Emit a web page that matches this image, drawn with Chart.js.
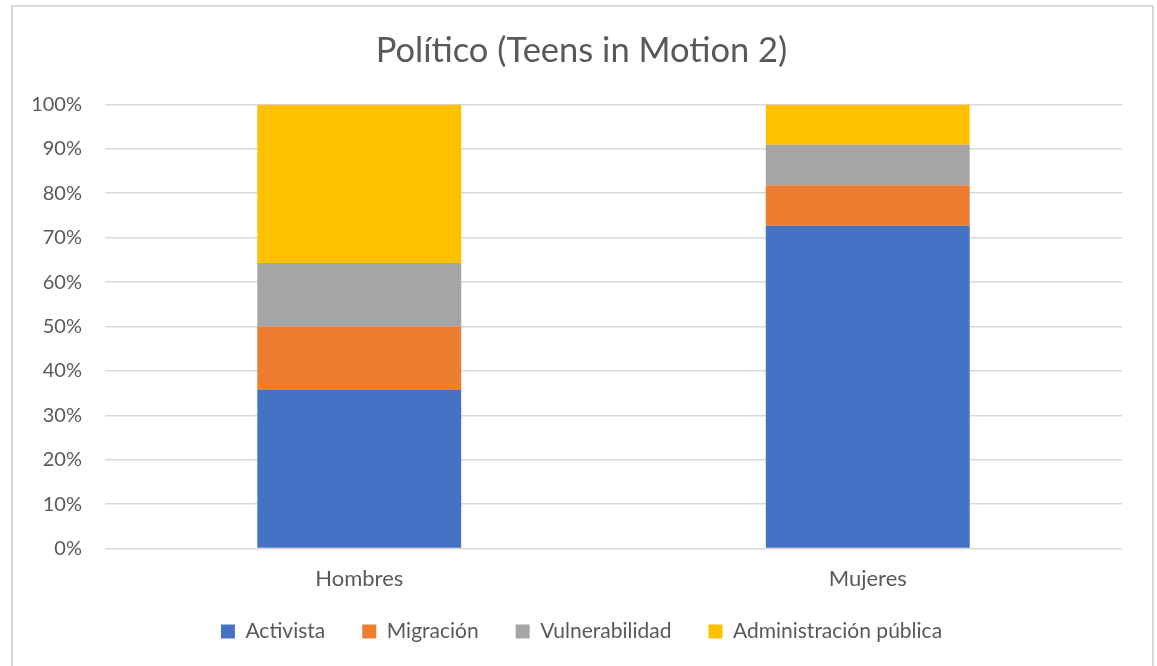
<!DOCTYPE html>
<html>
<head>
<meta charset="utf-8">
<script src="https://cdn.jsdelivr.net/npm/chart.js@4/dist/chart.umd.min.js"></script>
<style>
  html, body { margin: 0; padding: 0; background: #fff; }
  #frame { position: absolute; left: 11px; top: 5px; width: 1139px; height: 700px; border: 2px solid #d9d9d9; }
  #wrap { position: absolute; left: 0; top: 0; width: 1157px; height: 666px; }
</style>
</head>
<body>
<div id="frame"></div>
<div id="wrap"><canvas id="myChart" width="1157" height="666"></canvas></div>
<script>
const grupos = ['Hombres', 'Mujeres'];
const activista = [35.7, 72.7];
const migracion = [14.3, 9.1];
const vulnerabilidad = [14.3, 9.1];
const administracion = [35.7, 9.1];
const yTicks = [0, 10, 20, 30, 40, 50, 60, 70, 80, 90, 100];

const gris = '#595959';
Chart.defaults.font.family = 'Lato, "Open Sans", sans-serif';
Chart.defaults.color = gris;

// title and legend sit a little right of the canvas centre,
// and the legend keeps wide item gaps but takes less room above them
const recorte = 17;
const desplazX = 5.5;
const ajusteBloques = {
    id: 'ajusteBloques',
    beforeInit(chart) {
        const leg = chart.legend;
        const fitOrig = leg.fit;
        const drawLeg = leg._draw;
        leg.fit = function () {
            fitOrig.call(this);
            this.height -= recorte;
        };
        leg._draw = function () {
            this.ctx.save();
            this.ctx.translate(desplazX, -recorte);
            drawLeg.call(this);
            this.ctx.restore();
        };
        const tit = chart.titleBlock;
        const drawTit = tit.draw;
        tit.draw = function () {
            this.ctx.save();
            this.ctx.translate(desplazX, 0);
            drawTit.call(this);
            this.ctx.restore();
        };
    }
};

const ctx = document.getElementById('myChart').getContext('2d');
const myChart = new Chart(ctx, {
    type: 'bar',
    data: {
        labels: grupos,
        datasets: [
            { label: 'Activista', data: activista, backgroundColor: '#4472C4' },
            { label: 'Migración', data: migracion, backgroundColor: '#ED7D31' },
            { label: 'Vulnerabilidad', data: vulnerabilidad, backgroundColor: '#A5A5A5' },
            { label: 'Administración pública', data: administracion, backgroundColor: '#FFC000' }
        ]
    },
    options: {
        responsive: false,
        animation: false,
        barPercentage: 0.401,
        categoryPercentage: 1,
        layout: { padding: { left: 30, right: 35, top: 0, bottom: 14 } },
        plugins: {
            title: {
                display: true,
                text: 'Político (Teens in Motion 2)',
                color: gris,
                font: { size: 34.5, weight: 'normal' },
                padding: { top: 30, bottom: 33 }
            },
            legend: {
                position: 'bottom',
                labels: {
                    boxWidth: 14,
                    boxHeight: 14,
                    padding: 37,
                    font: { size: 21 },
                    color: gris
                }
            },
            tooltip: { enabled: false }
        },
        scales: {
            x: {
                stacked: true,
                grid: { display: false },
                border: { display: false },
                ticks: { padding: 9, font: { size: 22 }, color: gris }
            },
            y: {
                stacked: true,
                min: 0,
                max: 100,
                afterBuildTicks: axis => { axis.ticks = yTicks.map(v => ({ value: v })); },
                afterFit: axis => { axis.width = 75; },
                grid: { color: '#d9d9d9', lineWidth: 1.5, drawTicks: false },
                border: { display: false },
                ticks: {
                    padding: 23,
                    font: { size: 20 },
                    color: gris,
                    callback: v => v + '%'
                }
            }
        }
    },
    plugins: [ajusteBloques]
});
</script>
</body>
</html>
